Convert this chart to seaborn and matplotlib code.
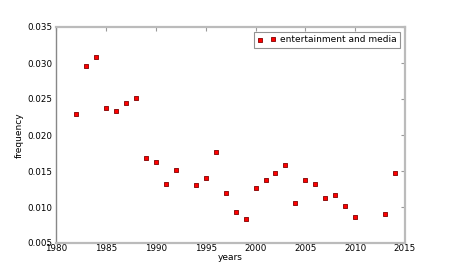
import seaborn as sns
import matplotlib.pyplot as plt
import pandas as pd

years = [1982, 1983, 1984, 1985, 1986, 1987, 1988, 1989, 1990, 1991,
         1992, 1994, 1995, 1996, 1997, 1998, 1999, 2000, 2001, 2002,
         2003, 2004, 2005, 2006, 2007, 2008, 2009, 2010, 2013, 2014]
frequency = [0.0229, 0.0296, 0.0309, 0.0237, 0.0233, 0.0245, 0.0251, 0.0168, 0.0162, 0.0132,
             0.0152, 0.0131, 0.0140, 0.0176, 0.0119, 0.0093, 0.0084, 0.0127, 0.0137, 0.0147,
             0.0159, 0.0105, 0.0137, 0.0132, 0.0112, 0.0116, 0.0102, 0.0086, 0.0090, 0.0147]
label = 'entertainment and media'

df = pd.DataFrame({'years': years, 'frequency': frequency})

sns.set_style('white')
plt.rcParams['font.family'] = ['DejaVu Sans']
plt.rcParams['text.color'] = 'black'
plt.rcParams['axes.labelcolor'] = 'black'
plt.rcParams['xtick.labelcolor'] = 'black'
plt.rcParams['ytick.labelcolor'] = 'black'
fs = 6.5

fig, ax = plt.subplots(figsize=(4.5, 2.7), dpi=100)
fig.subplots_adjust(left=0.125, right=0.9, bottom=0.1, top=0.9)

sns.scatterplot(data=df, x='years', y='frequency', marker='s', s=9,
                color='red', edgecolor='#800000', linewidth=0.6,
                label=label, ax=ax)

ax.set_xlim(1980, 2015)
ax.set_ylim(0.005, 0.035)
ax.set_xticks(range(1980, 2016, 5))
ax.set_yticks([0.005, 0.010, 0.015, 0.020, 0.025, 0.030, 0.035])
ax.set_xlabel('years', fontsize=fs, labelpad=0)
ax.set_ylabel('frequency', fontsize=fs, labelpad=2)
ax.tick_params(direction='in', length=3, width=0.8, color='#999999',
               labelsize=6.3, labelcolor='black', top=True, right=True)
ax.tick_params(axis='x', pad=1)
ax.tick_params(axis='y', pad=3)

for side in ['top', 'bottom', 'right']:
    ax.spines[side].set_color('#bbbbbb')
    ax.spines[side].set_linewidth(1.6)
ax.spines['left'].set_color('#888888')
ax.spines['left'].set_linewidth(1.0)

leg = ax.legend(loc='upper right', scatterpoints=2, fontsize=fs,
                frameon=True, fancybox=False, borderpad=0.4,
                handletextpad=0.5, handlelength=2.0, borderaxespad=0.5)
leg.get_frame().set_edgecolor('#777777')
leg.get_frame().set_linewidth(0.8)
for t in leg.get_texts():
    t.set_color('black')

plt.savefig('out.png', dpi=100)
